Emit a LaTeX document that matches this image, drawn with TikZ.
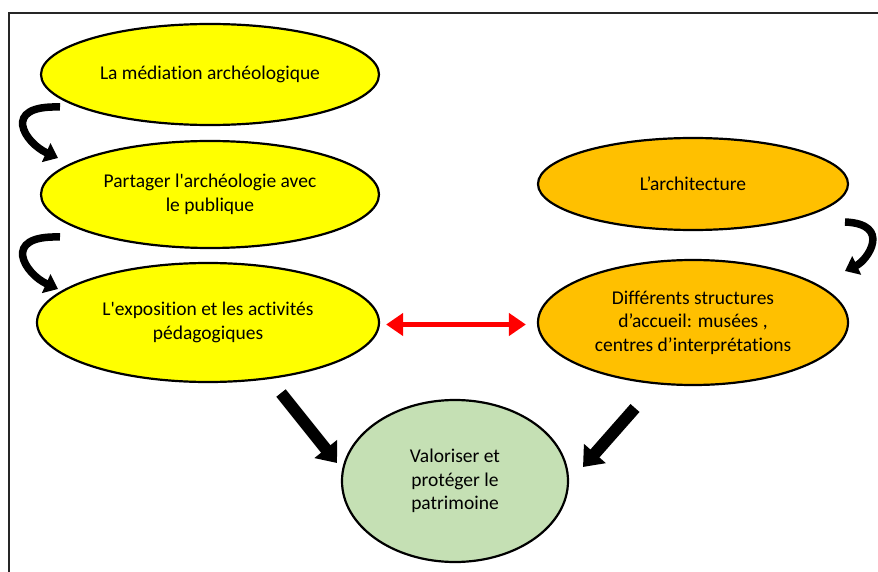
\documentclass[tikz,border=0pt]{standalone}
\usepackage{fontspec}
\setmainfont{Carlito}[Ligatures={NoCommon}]
\usetikzlibrary{shapes.geometric,arrows.meta}
\definecolor{ylw}{HTML}{FFFF00}
\definecolor{org}{HTML}{FFC000}
\definecolor{grn}{HTML}{C5E0B4}
\definecolor{redarr}{HTML}{FF0000}
\begin{document}
\begin{tikzpicture}[x=1pt,y=-1pt,
  bubble/.style={ellipse,draw=black,line width=2.2pt,inner sep=0pt,align=center,
    font=\fontsize{19.5}{23.5}\selectfont},
  yel/.style={bubble,fill=ylw},
  ora/.style={bubble,fill=org},
  gre/.style={bubble,fill=grn},
  curvarr/.style={line width=7.5pt,-{Triangle[width=20pt,length=13pt]}},
  bigarr/.style={line width=12pt,-{Triangle[width=28pt,length=18pt]}},
  redlink/.style={draw=redarr,line width=4.5pt,{Triangle[width=22pt,length=17pt]}-{Triangle[width=22pt,length=17pt]}}]
\useasboundingbox (0,0) rectangle (878,572);
\fill[white] (0,0) rectangle (878,572);
\draw[line width=1.6pt,draw=black!85] (879,13) -- (9,13) -- (9,573);

\node[yel,minimum width=338pt,minimum height=101pt] (e1) at (210,74.5) {La médiation archéologique};
\node[yel,minimum width=338pt,minimum height=107pt] (e2) at (210,194.5) {Partager l\textquotesingle archéologie avec\\le publique};
\node[yel,minimum width=342pt,minimum height=119pt] (e3) at (208,322.5) {L\textquotesingle exposition et les activités\\pédagogiques};
\node[ora,minimum width=310pt,minimum height=92pt] (e4) at (693,184) {L’architecture};
\node[ora,minimum width=310pt,minimum height=125pt] (e5) at (693,322.5) {Différents structures\\d’accueil: musées ,\\centres d’interprétations};
\node[gre,minimum width=226pt,minimum height=162pt] (e6) at (455,481) {Valoriser et\\protéger le\\patrimoine};

\coordinate (c1s) at (60,107);
\coordinate (c1e) at (58,158);
\coordinate (c2s) at (60,237);
\coordinate (c2e) at (58,289);
\coordinate (c3s) at (845,222);
\coordinate (c3e) at (845,271);
\draw[curvarr] (c1s) .. controls (0,105) and (25,143) .. (c1e);
\draw[curvarr] (c2s) .. controls (0,235) and (25,274) .. (c2e);
\draw[curvarr] (c3s) .. controls (892,224) and (868,260) .. (c3e);

\path (e3.east) ++(6,2) coordinate (r1) (e5.west) ++(-11,2) coordinate (r2);
\draw[redlink] (r1) -- (r2);

\coordinate (b1s) at (281,393);
\coordinate (b1e) at (337,463);
\coordinate (b2s) at (635,408);
\coordinate (b2e) at (583,467);
\draw[bigarr] (b1s) -- (b1e);
\draw[bigarr] (b2s) -- (b2e);
\end{tikzpicture}
\end{document}
